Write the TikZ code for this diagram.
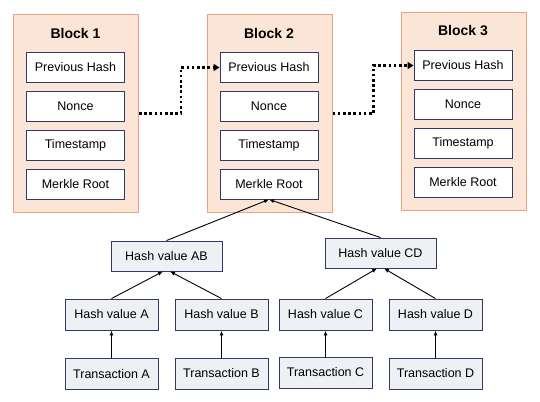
\documentclass[tikz,border=0pt]{standalone}
\usepackage{fontspec}
\setmainfont{Liberation Sans}
\usetikzlibrary{arrows,arrows.meta,shapes,calc}
\definecolor{blockfill}{HTML}{FBE5D6}
\definecolor{blockline}{HTML}{E9A47E}
\definecolor{fieldline}{HTML}{2F3B66}
\definecolor{hashfill}{HTML}{EEF0F4}
\tikzstyle{block}=[draw=blockline,fill=blockfill,line width=1pt,minimum width=125pt,minimum height=197pt,inner sep=0pt]
\tikzstyle{field}=[draw=fieldline,fill=white,line width=0.9pt,minimum width=98pt,minimum height=30pt,inner sep=0pt,font=\fontsize{12.5}{15}\selectfont]
\tikzstyle{hashbox}=[field,fill=hashfill,minimum width=93pt,minimum height=31pt]
\tikzstyle{hashtop}=[hashbox,minimum width=111pt,minimum height=30pt]
\tikzstyle{title}=[font=\fontsize{14}{16}\selectfont\bfseries]
\tikzstyle{edge} = [draw,line width=0.9pt,-{Latex[length=5pt,width=4pt]}]
\tikzstyle{link} = [draw,line width=2.6pt,dash pattern=on 2.6pt off 2.6pt,-{Triangle[length=6pt,width=7pt]}]

\begin{document}
\begin{tikzpicture}[x=1pt,y=-1pt]
    \useasboundingbox (0,0) rectangle (540,401);

    % blocks with their fields
    \foreach \b/\x/\y in {1/75.5/0, 2/269/0, 3/463/-2} {
        \node[block] (b\b) at (\x+0.5,113.5+\y) {};
        \node[title] (t\b) at (\x,33+\y) {Block \b};
        \foreach \f/\name/\dy in {p/Previous Hash/67.5, n/Nonce/106.5, ts/Timestamp/145.5, m/Merkle Root/184}
            \node[field] (\f\b) at (\x,\dy+\y) {\name};
    }

    % chain links
    \path[link] (b1.east) -- ++(42,0) |- (p2.west);
    \path[link] (b2.east) -- ++(41,0) |- (p3.west);

    % merkle tree
    \foreach \pos/ \name/\txt in {{(166.5,256)/ab/Hash value AB}, {(380.5,253)/cd/Hash value CD}}
        \node[hashtop] (\name) at \pos {\txt};
    \foreach \pos/ \name/\txt in {{(111.5,314.5)/ha/Hash value A}, {(221.5,314.5)/hb/Hash value B},
                                  {(325.5,314.5)/hc/Hash value C}, {(435.5,314.5)/hd/Hash value D}}
        \node[hashbox] (\name) at \pos {\txt};
    \foreach \pos/ \name/\txt in {{(111.5,374)/ta/Transaction A}, {(221.5,373.5)/tb/Transaction B},
                                  {(325.5,372.5)/tc/Transaction C}, {(435.5,373.5)/td/Transaction D}}
        \node[hashbox] (\name) at \pos {\txt};

    % connect tree nodes
    \foreach \source/ \dest in {ab/m2, cd/m2}
        \path[edge] (\source.north) -- (\dest.south);
    \foreach \source/ \dest/\dx in {ha/ab/-3.5, hb/ab/3.5, hc/cd/-3.5, hd/cd/3.5}
        \path[edge] (\source.north) -- ([xshift=\dx pt]\dest.south);
    \foreach \source/ \dest in {ta/ha, tb/hb, tc/hc, td/hd}
        \path[edge] (\source.north) -- (\dest.south);

\end{tikzpicture}
\end{document}
